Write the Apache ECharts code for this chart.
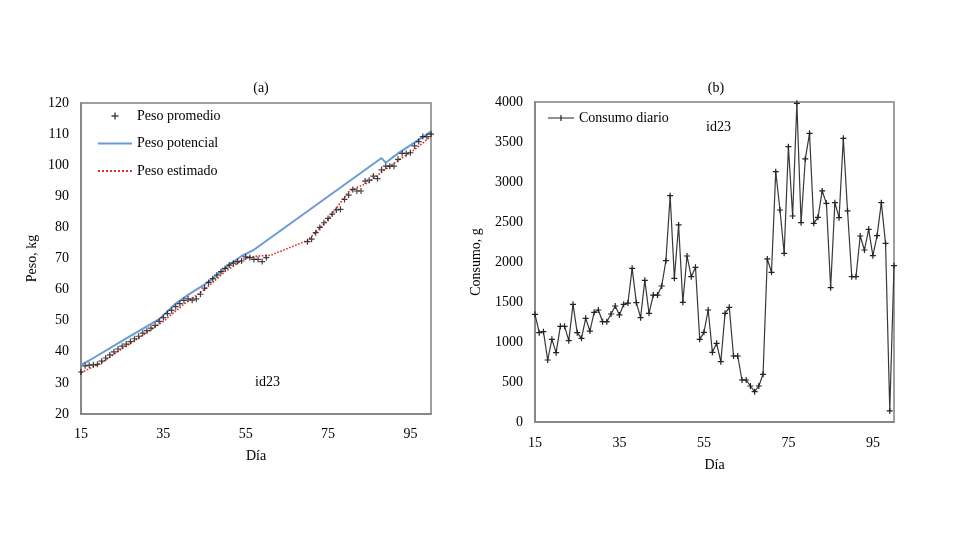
<!DOCTYPE html>
<html><head><meta charset="utf-8">
<script src="https://cdn.jsdelivr.net/npm/echarts@6/dist/echarts.min.js"></script>
<style>html,body{margin:0;padding:0;background:#fff}#c{width:980px;height:553px}</style>
</head><body><div id="c"></div>
<script>
// ---- data ----
const xTicks = [15, 35, 55, 75, 95];
const yTicksA = [20, 30, 40, 50, 60, 70, 80, 90, 100, 110, 120];
const yTicksB = [0, 500, 1000, 1500, 2000, 2500, 3000, 3500, 4000];

// (a) Peso promedio (kg) by day
const promDays = [15,16,17,18,19,20,21,22,23,24,25,26,27,28,29,30,31,32,33,34,35,36,37,38,39,40,41,42,43,44,45,46,47,48,49,50,51,52,53,54,55,56,57,58,59,60,
                  70,71,72,73,74,75,76,77,78,79,80,81,82,83,84,85,86,87,88,89,90,91,92,93,94,95,96,97,98,99,100];
const promValues = [33.5,35.5,35.7,35.8,36.0,37.0,38.0,39.0,40.0,40.9,41.8,42.5,43.3,44.2,45.0,46.0,46.8,47.6,48.5,49.8,51.0,52.3,53.3,54.5,55.5,56.5,57.0,56.6,57.0,58.5,60.5,62.3,63.5,64.7,65.8,66.8,67.9,68.5,69.0,69.2,70.5,70.3,69.7,69.7,69.0,70.3,
                  75.4,76.2,78.3,80.0,81.5,82.9,84.3,85.6,85.8,89.0,90.4,92.2,91.7,91.7,94.9,95.2,96.5,95.7,98.5,99.7,99.7,99.7,101.9,103.8,103.8,104.0,106.2,107.6,109.2,109.2,110.0];

// (a) Peso potencial (kg), vertices
const potDays   = [15,17,26,34,38,41,46,51,54,57,88,89,92,100];
const potValues = [35.8,37.2,44.3,50.5,55.5,58.3,62.5,68.0,70.8,72.8,102.3,100.8,103.8,110.8];

// (a) Peso estimado (kg), vertices
const estDays   = [15,20,25,30,35,40,45,50,55,58,61,70,75,80,82,85,88,92,96,100];
const estValues = [33.3,36.5,41.0,45.3,49.8,55.3,60.0,65.8,70.2,70.8,71.0,75.8,82.5,91.5,92.8,94.5,97.8,101.5,105.0,109.3];

// (b) Consumo diario (g), days 15..100
const consumoValues = [1346,1117,1129,775,1033,867,1196,1196,1017,1471,1117,1046,1296,1137,1371,1400,1254,1254,1350,1450,1338,1471,1487,1921,1492,1304,1771,1358,1587,1587,
  1700,2017,2829,1796,2463,1496,2075,1817,1933,1033,1121,1400,871,983,754,1358,1433,825,825,525,525,450,379,450,596,2038,1871,3129,2650,2108,
  3442,2575,3983,2492,3288,3608,2483,2558,2888,2733,1679,2742,2554,3546,2638,1817,1817,2325,2150,2408,2079,2329,2742,2233,138,1954];
const consumoDays = consumoValues.map((v, i) => 15 + i);

const zip = (a, b) => a.map((x, i) => [x, b[i]]);

// ---- chart ----
const FONT = 'Liberation Serif';
const txt = {fontFamily: FONT, fontSize: 14, color: '#000'};
const plus = 'path://M4,0H6V4H10V6H6V10H4V6H0V4H4Z';
// legend icons (bounding points first so the small glyph keeps its size)
const legendPlus = 'path://M0,0M34,14M16.3,3.5H17.7V6.3H20.5V7.7H17.7V10.5H16.3V7.7H13.5V6.3H16.3Z';
const legendLinePlus = 'path://M0,0M26,14M0,6.4H12.4V4H13.6V6.4H26V7.6H13.6V10H12.4V7.6H0Z';

function xAxis(gi, nameGap, labelMargin) {
  return {
    type: 'value', gridIndex: gi, min: 15, max: 100,
    name: 'Día', nameLocation: 'middle', nameGap: nameGap, nameTextStyle: txt,
    axisLine: {show: true, lineStyle: {color: '#808080', width: 1.5}},
    axisTick: {show: false}, splitLine: {show: false},
    axisLabel: Object.assign({customValues: xTicks, margin: labelMargin}, txt)
  };
}
function yAxis(gi, ticks, name, nameGap) {
  return {
    type: 'value', gridIndex: gi, min: ticks[0], max: ticks[ticks.length - 1],
    interval: ticks[1] - ticks[0],
    name: name, nameLocation: 'middle', nameGap: nameGap, nameTextStyle: txt,
    axisLine: {show: true, lineStyle: {color: '#808080', width: 1.5}},
    axisTick: {show: false}, splitLine: {show: false},
    axisLabel: Object.assign({margin: 12, formatter: v => String(v)}, txt)
  };
}

const chart = echarts.init(document.getElementById('c'), null, {renderer: 'canvas'});
chart.setOption({
  backgroundColor: '#fff',
  animation: false,
  title: [
    {text: '(a)', left: 256, top: 76, textAlign: 'center', textStyle: Object.assign({}, txt, {fontWeight: 'normal'})},
    {text: '(b)', left: 711, top: 76, textAlign: 'center', textStyle: Object.assign({}, txt, {fontWeight: 'normal'})}
  ],
  grid: [
    {left: 81, top: 103, width: 350, height: 311, show: true, borderColor: '#808080', borderWidth: 1.5},
    {left: 535, top: 102, width: 359, height: 320, show: true, borderColor: '#808080', borderWidth: 1.5}
  ],
  xAxis: [xAxis(0, 35, 13), xAxis(1, 36, 14)],
  yAxis: [yAxis(0, yTicksA, 'Peso, kg', 42), yAxis(1, yTicksB, 'Consumo, g', 52)],
  legend: [
    {data: [
        {name: 'Peso promedio', icon: legendPlus},
        {name: 'Peso potencial', itemStyle: {opacity: 0}},
        {name: 'Peso estimado', itemStyle: {opacity: 0}}
     ], orient: 'vertical', left: 97, top: 109,
     itemWidth: 34, itemHeight: 14, itemGap: 13.5, textStyle: txt, padding: 0},
    {data: [{name: 'Consumo diario', icon: legendLinePlus}], left: 548, top: 111,
     itemWidth: 26, itemHeight: 14, textStyle: txt, padding: 0}
  ],
  graphic: [
    {type: 'text', left: 255, top: 375, style: {text: 'id23', font: '14px "Liberation Serif"', fill: '#000'}},
    {type: 'text', left: 706, top: 120, style: {text: 'id23', font: '14px "Liberation Serif"', fill: '#000'}}
  ],
  series: [
    {name: 'Peso potencial', type: 'line', xAxisIndex: 0, yAxisIndex: 0, data: zip(potDays, potValues),
     symbol: 'none', lineStyle: {color: '#6b9bd6', width: 2}, itemStyle: {color: '#6b9bd6'}, z: 2},
    {name: 'Peso estimado', type: 'line', xAxisIndex: 0, yAxisIndex: 0, data: zip(estDays, estValues),
     symbol: 'none', lineStyle: {color: '#e0302a', width: 1.6, type: 'dotted'}, itemStyle: {color: '#e0302a'}, z: 3},
    {name: 'Peso promedio', type: 'scatter', xAxisIndex: 0, yAxisIndex: 0, data: zip(promDays, promValues),
     symbol: plus, symbolSize: 6, itemStyle: {color: '#111'}, z: 4},
    {name: 'Consumo diario', type: 'line', xAxisIndex: 1, yAxisIndex: 1, data: zip(consumoDays, consumoValues),
     symbol: plus, symbolSize: 6, showAllSymbol: true,
     lineStyle: {color: '#383838', width: 1.2}, itemStyle: {color: '#222'}}
  ]
});
</script>
</body></html>
